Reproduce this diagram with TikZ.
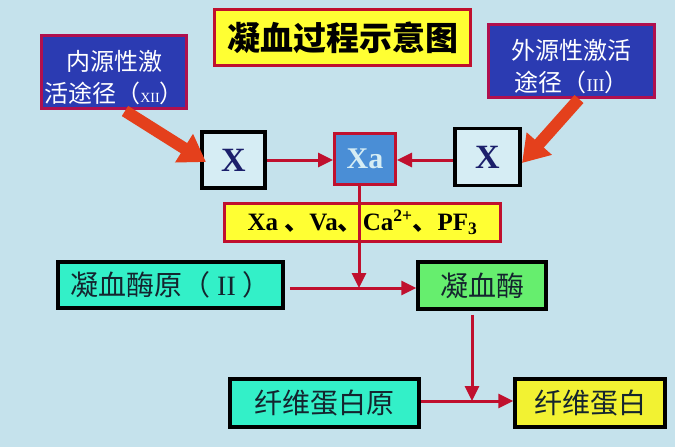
\documentclass[tikz,border=0pt]{standalone}
\usepackage{fontspec}
\setmainfont{Liberation Serif}
\newfontfamily\cjk{Noto Sans CJK SC}
\usetikzlibrary{arrows.meta}
\definecolor{bg}{HTML}{C5E2EC}
\definecolor{crim}{HTML}{C0102E}
\definecolor{titley}{HTML}{FFFF33}
\definecolor{dblue}{HTML}{2B3BB2}
\definecolor{magb}{HTML}{B0104E}
\definecolor{xfill}{HTML}{D6EDF4}
\definecolor{xtext}{HTML}{1B1F6B}
\definecolor{xafill}{HTML}{4A8ED6}
\definecolor{turq}{HTML}{33F0C8}
\definecolor{grn}{HTML}{66EE6E}
\definecolor{ylw}{HTML}{F2F232}
\definecolor{thickred}{HTML}{E4401C}
\definecolor{ink}{HTML}{14242E}
\begin{document}
\begin{tikzpicture}[x=1pt,y=-1pt,
  box/.style={draw, inner sep=0pt, align=center},
  blkbox/.style={box, line width=3.5pt, draw=black},
  redbox/.style={box, line width=3pt, draw=crim},
  bluebox/.style={box, line width=3pt, draw=magb, fill=dblue, text=white,
    font=\cjk\fontsize{24}{32}\selectfont},
  xbox/.style={blkbox, fill=xfill, text=xtext, font=\bfseries\fontsize{34}{36}\selectfont},
  cjkbox/.style={blkbox, text=ink, font=\cjk\fontsize{28}{30}\selectfont},
  arr/.style={crim, line width=3pt, -{Triangle[length=15pt,width=14pt]}},
  bigarr/.style={thickred, line width=12pt, -{Triangle[length=26pt,width=32pt]}}
]
\fill[bg] (0,0) rectangle (675,447);
\useasboundingbox (0,0) rectangle (675,447);

\node[redbox, fill=titley, minimum width=256pt, minimum height=56pt,
  font=\cjk\bfseries\fontsize{33}{35}\selectfont] (title) at (342.5,37.5) {凝血过程示意图};

\node[bluebox, minimum width=145pt, minimum height=73pt] (lblue) at (114,72)
  {\rule{0pt}{32pt}内源性激\\活途径（{\rmfamily\fontsize{14}{16}\selectfont XII}）};
\node[bluebox, minimum width=166pt, minimum height=73pt] (rblue) at (571.5,61)
  {\rule{0pt}{32pt}外源性激活\\途径（{\rmfamily\fontsize{18}{20}\selectfont III}）};

\node[xbox, minimum width=63pt, minimum height=56pt] (xl) at (233.5,160) {X};
\node[redbox, fill=xafill, text=xfill, minimum width=61pt, minimum height=51pt,
  font=\bfseries\fontsize{30}{32}\selectfont] (xa) at (365,159) {Xa};
\node[xbox, minimum width=65pt, minimum height=57pt] (xr) at (487.5,157) {X};

\node[redbox, fill=titley, minimum width=276pt, minimum height=38pt,
  font=\bfseries\fontsize{25}{27}\selectfont] (cof) at (362.5,222.5)
  {Xa {\cjk 、}Va{\cjk 、}Ca\textsuperscript{2+}{\cjk 、}PF\textsubscript{3}};

\node[cjkbox, fill=turq, minimum width=225pt, minimum height=46pt] (proth) at (170.5,285)
  {凝血酶原（ {\rmfamily II} ）};
\node[cjkbox, fill=grn, minimum width=128pt, minimum height=47pt] (thr) at (482,285.5) {凝血酶};
\node[cjkbox, fill=turq, minimum width=189pt, minimum height=48pt] (fibg) at (324.5,403) {纤维蛋白原};
\node[cjkbox, fill=ylw, minimum width=150pt, minimum height=48pt] (fib) at (590,403) {纤维蛋白};

% thin arrows
\draw[arr] (xl.east) -- (xl.east -| xa.west);
\draw[arr] (xr.west |- xl.east) -- (xa.east |- xl.east);

\coordinate (j1) at (359,288);
\draw[crim, line width=3pt] ([xshift=5pt]proth.east |- j1) -- (j1);
\draw[arr] (j1) -- (j1 -| thr.west);
\draw[arr] (xa.south -| j1) -- (j1);

\coordinate (j2) at (472,401);
\draw[crim, line width=3pt] (fibg.east |- j2) -- (j2);
\draw[arr] (j2) -- (j2 -| fib.west);
\draw[arr] ([yshift=-4pt]thr.south -| j2) -- (j2);

% thick arrows
\coordinate (ls) at (125,111);
\coordinate (le) at (206,162);
\coordinate (rs) at (579,99);
\coordinate (re) at (522,163);
\draw[bigarr] (ls) -- (le);
\draw[bigarr] (rs) -- (re);
\end{tikzpicture}
\end{document}
